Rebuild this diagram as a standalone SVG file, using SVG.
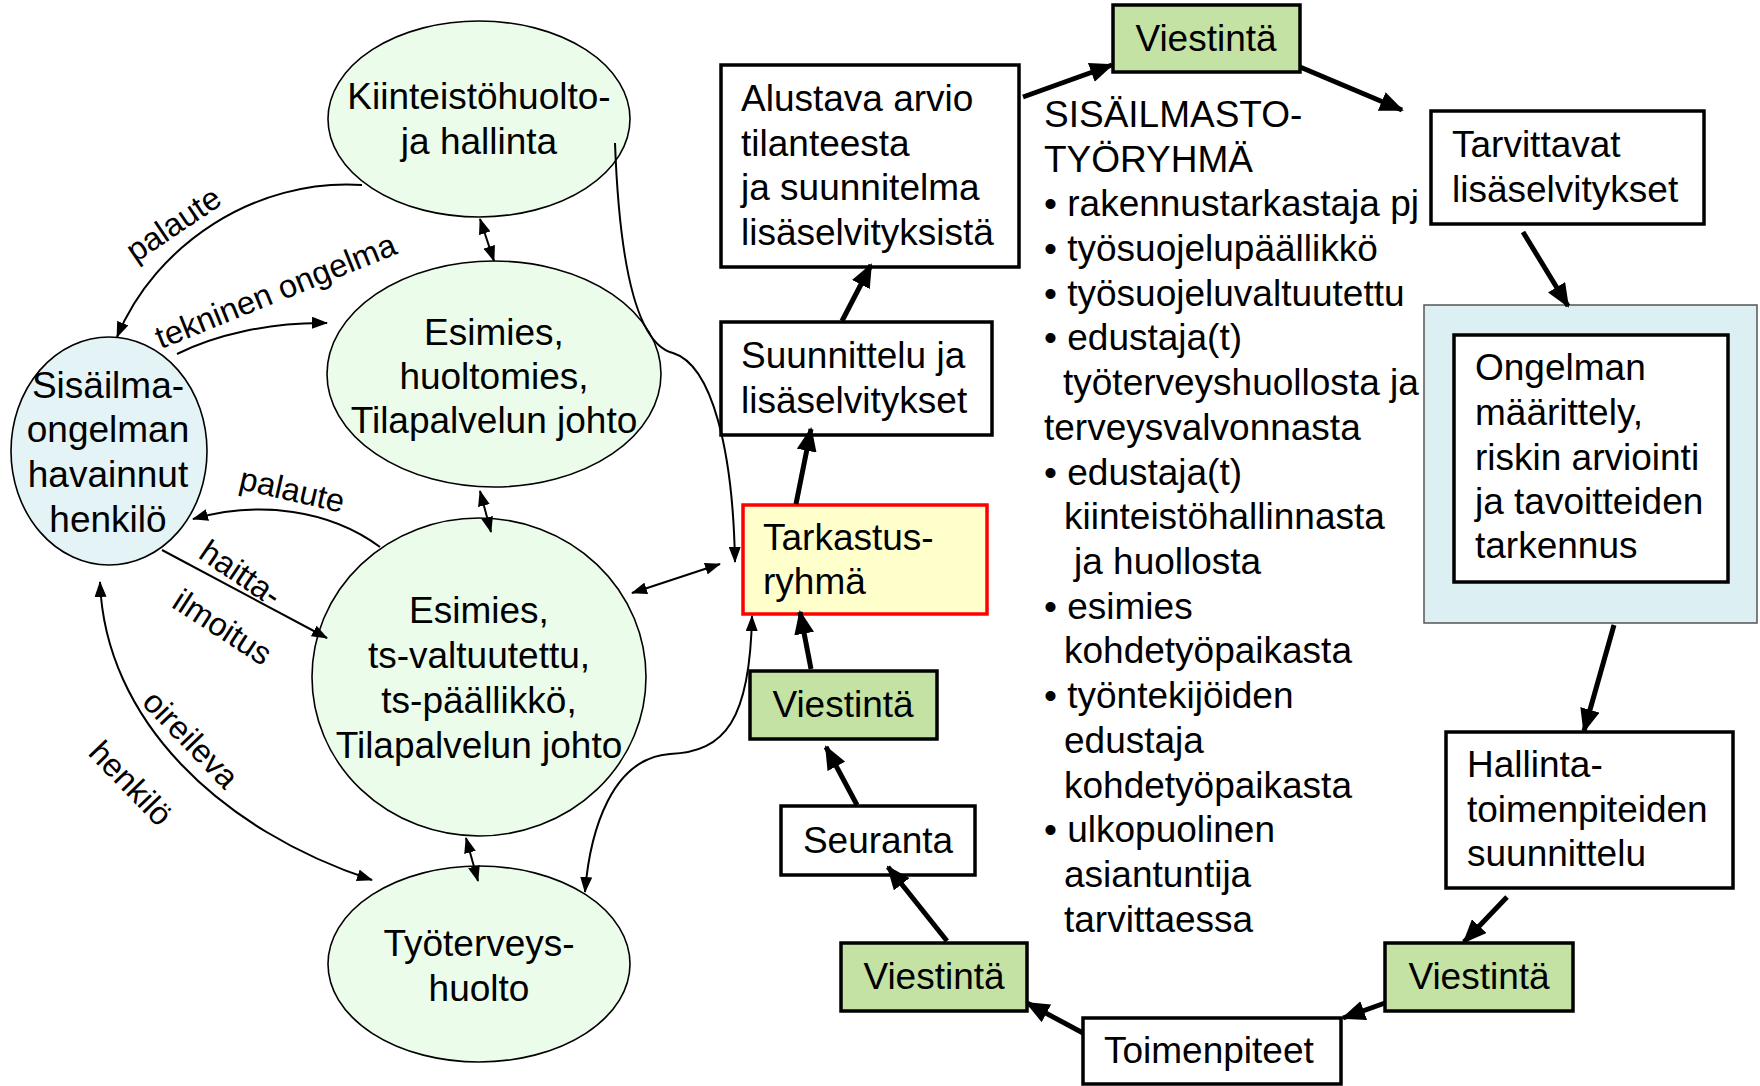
<svg xmlns="http://www.w3.org/2000/svg" width="1760" height="1086" viewBox="0 0 1760 1086">
<defs>
<style>
text{font-family:"Liberation Sans",Arial,sans-serif;fill:#000}
.t{font-size:37px}
.c{text-anchor:middle}
.lbl{font-size:32.5px;text-anchor:middle}
.ell{fill:#EBFCEA;stroke:#000;stroke-width:1.6}
.box{fill:#fff;stroke:#000;stroke-width:3.5}
.vie{fill:#C5E2A5;stroke:#000;stroke-width:3.5}
.thick{fill:none;stroke:#000;stroke-width:5;marker-end:url(#ah)}
.thin{fill:none;stroke:#000;stroke-width:2;marker-end:url(#as)}
.dbl{marker-start:url(#as)}
</style>
<marker id="ah" markerWidth="24" markerHeight="20" refX="22" refY="10" orient="auto" markerUnits="userSpaceOnUse"><path d="M0,0 L24,10 L0,20 z" fill="#000"/></marker>
<marker id="as" markerWidth="16" markerHeight="12" refX="15" refY="6" orient="auto-start-reverse" markerUnits="userSpaceOnUse"><path d="M0,0 L16,6 L0,12 z" fill="#000"/></marker>
</defs>
<rect width="1760" height="1086" fill="#fff"/>

<g id="kiinteisto">
<ellipse class="ell" cx="479" cy="119" rx="151" ry="98"/>
<text class="t c" x="479" y="109">Kiinteistöhuolto-</text>
<text class="t c" x="479" y="154">ja hallinta</text>
</g>
<g id="esimies1">
<ellipse class="ell" cx="494" cy="374" rx="167" ry="113"/>
<text class="t c" x="494" y="345">Esimies,</text>
<text class="t c" x="494" y="389">huoltomies,</text>
<text class="t c" x="494" y="433">Tilapalvelun johto</text>
</g>
<g id="sisailma">
<ellipse cx="109" cy="451" rx="98" ry="114" fill="#E4F3F5" stroke="#000" stroke-width="1.6"/>
<text class="t c" x="108" y="398">Sisäilma-</text>
<text class="t c" x="108" y="442">ongelman</text>
<text class="t c" x="108" y="487">havainnut</text>
<text class="t c" x="108" y="532">henkilö</text>
</g>
<g id="esimies2">
<ellipse class="ell" cx="479" cy="677" rx="167" ry="159"/>
<text class="t c" x="479" y="623">Esimies,</text>
<text class="t c" x="479" y="668">ts-valtuutettu,</text>
<text class="t c" x="479" y="713">ts-päällikkö,</text>
<text class="t c" x="479" y="758">Tilapalvelun johto</text>
</g>
<g id="tyoterveys">
<ellipse class="ell" cx="479" cy="964" rx="151" ry="98"/>
<text class="t c" x="479" y="956">Työterveys-</text>
<text class="t c" x="479" y="1001">huolto</text>
</g>

<g id="alustava">
<rect class="box" x="721" y="65" width="298" height="202"/>
<text class="t" x="741" y="111">Alustava arvio</text>
<text class="t" x="741" y="156">tilanteesta</text>
<text class="t" x="741" y="200">ja suunnitelma</text>
<text class="t" x="741" y="245">lisäselvityksistä</text>
</g>
<g id="suunnittelu">
<rect class="box" x="721" y="322" width="271" height="113"/>
<text class="t" x="741" y="368">Suunnittelu ja</text>
<text class="t" x="741" y="413">lisäselvitykset</text>
</g>
<g id="tarkastus">
<rect x="743" y="505" width="244" height="109" fill="#FFFFCC" stroke="#FF0000" stroke-width="3.5"/>
<text class="t" x="763" y="550">Tarkastus-</text>
<text class="t" x="763" y="594">ryhmä</text>
</g>
<g id="viestinta-top">
<rect class="vie" x="1113" y="5" width="187" height="67"/>
<text class="t c" x="1206" y="51">Viestintä</text>
</g>
<g id="viestinta-mid">
<rect class="vie" x="750" y="671" width="187" height="68"/>
<text class="t c" x="843" y="717">Viestintä</text>
</g>
<g id="seuranta">
<rect class="box" x="781" y="806" width="194" height="69"/>
<text class="t c" x="878" y="853">Seuranta</text>
</g>
<g id="viestinta-bl">
<rect class="vie" x="841" y="943" width="186" height="68"/>
<text class="t c" x="934" y="989">Viestintä</text>
</g>
<g id="toimenpiteet">
<rect class="box" x="1083" y="1018" width="258" height="66"/>
<text class="t" x="1104" y="1063">Toimenpiteet</text>
</g>
<g id="viestinta-br">
<rect class="vie" x="1385" y="943" width="188" height="68"/>
<text class="t c" x="1479" y="989">Viestintä</text>
</g>
<g id="hallinta">
<rect class="box" x="1446" y="732" width="287" height="156"/>
<text class="t" x="1467" y="777">Hallinta-</text>
<text class="t" x="1467" y="822">toimenpiteiden</text>
<text class="t" x="1467" y="866">suunnittelu</text>
</g>
<g id="ongelman">
<rect x="1424" y="305" width="333" height="318" fill="#DCEFF3" stroke="#555" stroke-width="1.5"/>
<rect class="box" x="1454" y="335" width="274" height="247"/>
<text class="t" x="1475" y="380">Ongelman</text>
<text class="t" x="1475" y="425">määrittely,</text>
<text class="t" x="1475" y="470">riskin arviointi</text>
<text class="t" x="1475" y="514">ja tavoitteiden</text>
<text class="t" x="1475" y="558">tarkennus</text>
</g>
<g id="tarvittavat">
<rect class="box" x="1431" y="111" width="273" height="113"/>
<text class="t" x="1452" y="157">Tarvittavat</text>
<text class="t" x="1452" y="202">lisäselvitykset</text>
</g>

<g id="tyoryhma">
<text class="t">
<tspan x="1044" y="127">SISÄILMASTO-</tspan>
<tspan x="1044" y="171.5">TYÖRYHMÄ</tspan>
<tspan x="1044" y="216">• rakennustarkastaja pj</tspan>
<tspan x="1044" y="261">• työsuojelupäällikkö</tspan>
<tspan x="1044" y="305.5">• työsuojeluvaltuutettu</tspan>
<tspan x="1044" y="350">• edustaja(t)</tspan>
<tspan x="1063" y="395">työterveyshuollosta ja</tspan>
<tspan x="1044" y="440">terveysvalvonnasta</tspan>
<tspan x="1044" y="484.5">• edustaja(t)</tspan>
<tspan x="1064" y="529">kiinteistöhallinnasta</tspan>
<tspan x="1074" y="574">ja huollosta</tspan>
<tspan x="1044" y="618.5">• esimies</tspan>
<tspan x="1064" y="663">kohdetyöpaikasta</tspan>
<tspan x="1044" y="708">• työntekijöiden</tspan>
<tspan x="1064" y="753">edustaja</tspan>
<tspan x="1064" y="797.5">kohdetyöpaikasta</tspan>
<tspan x="1044" y="842">• ulkopuolinen</tspan>
<tspan x="1064" y="887">asiantuntija</tspan>
<tspan x="1064" y="932">tarvittaessa</tspan>
</text>
</g>

<g id="connectors">
<path class="thick" d="M1023,97 L1112,65"/>
<path class="thick" d="M1300,67 L1402,110"/>
<path class="thick" d="M1523,232 L1568,306"/>
<path class="thick" d="M1614,625 L1584,731"/>
<path class="thick" d="M1507,897 L1464,942"/>
<path class="thick" d="M1385,1003 L1343,1018"/>
<path class="thick" d="M1083,1033 L1027,1003"/>
<path class="thick" d="M947,941 L888,867"/>
<path class="thick" d="M857,805 L826,747"/>
<path class="thick" d="M811,669 L800,612"/>
<path class="thick" d="M796,504 L811,429"/>
<path class="thick" d="M842,321 L871,265"/>

<path class="thin" d="M362,185 C255,178 155,245 117,337"/>
<path class="thin" d="M177,354 C215,335 270,322 327,323"/>
<path class="thin" d="M380,547 C330,510 260,500 193,519"/>
<path class="thin" d="M162,550 L327,638"/>
<path class="thin dbl" d="M100,582 C105,720 220,830 372,880"/>
<path class="thin dbl" d="M480,219 L494,261"/>
<path class="thin dbl" d="M480,491 L491,532"/>
<path class="thin dbl" d="M466,838 L478,881"/>
<path class="thin dbl" d="M632,593 L720,564"/>
<path class="thin" d="M615,143 C620,280 640,345 673,353 C712,365 733,450 735,562"/>
<path class="thin dbl" d="M752,616 C750,720 725,752 670,754 C612,758 590,830 585,892"/>

<text class="lbl" transform="translate(174,225) rotate(-34)" y="10">palaute</text>
<text class="lbl" transform="translate(276,292) rotate(-22)" y="10">tekninen ongelma</text>
<text class="lbl" transform="translate(292,491) rotate(13)" y="10">palaute</text>
<text class="lbl" transform="translate(240,574) rotate(34)" y="10">haitta-</text>
<text class="lbl" transform="translate(222,628) rotate(33)" y="10">ilmoitus</text>
<text class="lbl" transform="translate(190,740) rotate(46)" y="10">oireileva</text>
<text class="lbl" transform="translate(130,784) rotate(46)" y="10">henkilö</text>
</g>
</svg>
